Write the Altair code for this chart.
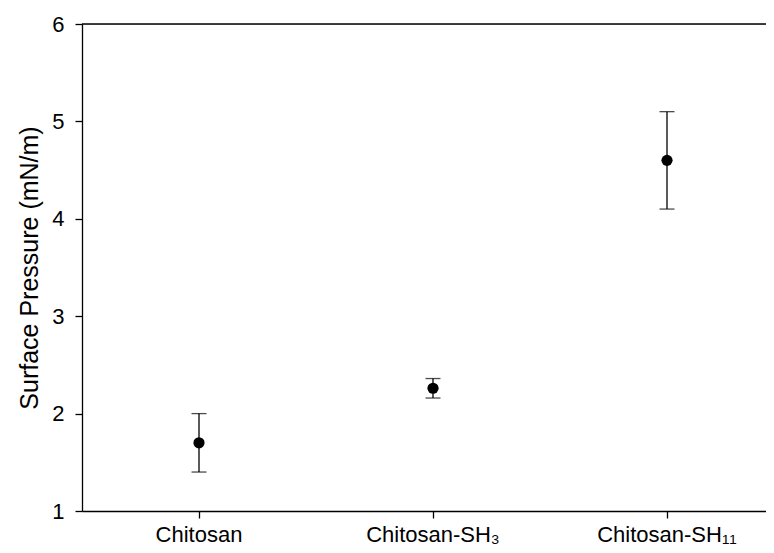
import altair as alt
import pandas as pd

categories = ["Chitosan", "Chitosan-SH\u2083", "Chitosan-SH\u2081\u2081"]
means = [1.70, 2.26, 4.60]
lower = [1.40, 2.16, 4.10]
upper = [2.00, 2.36, 5.10]

df = pd.DataFrame({"cat": categories, "mean": means, "lo": lower, "hi": upper})

FONT = "Liberation Sans"

xscale = alt.Scale(domain=categories, range=[0, 702], paddingInner=0, paddingOuter=0)
yscale = alt.Scale(domain=[1, 6], nice=False, zero=False)

xenc = alt.X("cat:N", scale=xscale, sort=categories,
             axis=alt.Axis(title=None, labelAngle=0, labelFontSize=22, labelFont=FONT,
                           labelColor="black", tickSize=7, tickColor="black",
                           domainColor="black", domainWidth=1.3, tickWidth=1.3,
                           labelPadding=6, grid=False))
yaxis = alt.Axis(title="Surface Pressure (mN/m)", values=[1, 2, 3, 4, 5, 6], format="d",
                 labelFontSize=22, labelFont=FONT, labelColor="black",
                 titleFontSize=25, titleFont=FONT, titleFontWeight="normal",
                 titleColor="black", titlePadding=9, tickSize=7, tickColor="black",
                 domainColor="black", domainWidth=1.3, tickWidth=1.3,
                 labelPadding=11, grid=False)

base = alt.Chart(df)

rules = base.mark_rule(color="black", strokeWidth=1.3).encode(
    x=xenc,
    y=alt.Y("lo:Q", scale=yscale, axis=yaxis),
    y2="hi:Q",
)
caps_hi = base.mark_tick(color="black", size=15, thickness=1.3, orient="horizontal").encode(
    x=alt.X("cat:N", scale=xscale, sort=categories),
    y=alt.Y("hi:Q", scale=yscale),
)
caps_lo = base.mark_tick(color="black", size=15, thickness=1.3, orient="horizontal").encode(
    x=alt.X("cat:N", scale=xscale, sort=categories),
    y=alt.Y("lo:Q", scale=yscale),
)
points = base.mark_point(filled=True, color="black", size=125, opacity=1, shape="circle").encode(
    x=alt.X("cat:N", scale=xscale, sort=categories),
    y=alt.Y("mean:Q", scale=yscale),
)
top_line = alt.Chart(pd.DataFrame({"a": [0]})).mark_rule(color="black", strokeWidth=1.3).encode(
    x=alt.value(0), x2=alt.value(702), y=alt.value(0)
)

chart = alt.layer(rules, caps_hi, caps_lo, points, top_line).properties(
    width=684, height=487,
    autosize=alt.AutoSizeParams(type="none"),
    padding={"left": 74, "top": 16, "right": 0, "bottom": 36},
).configure_view(stroke=None).configure(background="white")

chart.save("out.html", embed_options={"renderer": "svg", "actions": False})
